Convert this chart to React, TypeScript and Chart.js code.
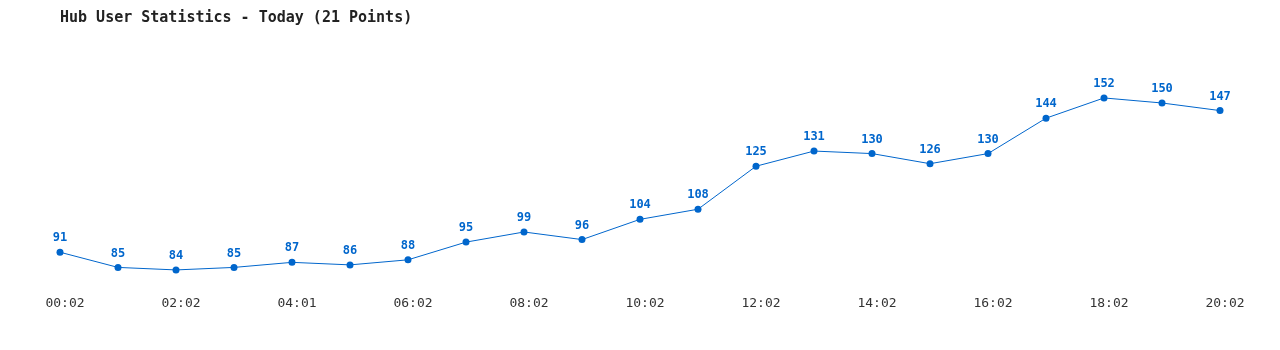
import React, { useEffect, useRef } from "react";
import { Chart, registerables } from "chart.js";

Chart.register(...registerables);

const times = [
  "00:02", "01:02", "02:02", "03:02", "04:01", "05:02", "06:02",
  "07:02", "08:02", "09:02", "10:02", "11:02", "12:02", "13:02",
  "14:02", "15:02", "16:02", "17:02", "18:02", "19:02", "20:02",
];
const users = [91, 85, 84, 85, 87, 86, 88, 95, 99, 96, 104, 108, 125, 131, 130, 126, 130, 144, 152, 150, 147];

const MONO = '"DejaVu Sans Mono", "Liberation Mono", monospace';
const BLUE = "#0066cc";

const valueLabels = {
  id: "valueLabels",
  afterDatasetsDraw(chart: any) {
    const ctx = chart.ctx;
    const meta = chart.getDatasetMeta(0);
    ctx.save();
    ctx.font = `bold 12px ${MONO}`;
    ctx.fillStyle = BLUE;
    ctx.textAlign = "center";
    ctx.textBaseline = "middle";
    meta.data.forEach((pt: any, i: number) => {
      ctx.fillText(String(users[i]), pt.x, pt.y - 14);
    });
    ctx.restore();
  },
};

export default function App() {
  const ref = useRef<HTMLCanvasElement>(null);
  useEffect(() => {
    if (!ref.current) return;
    const chart = new Chart(ref.current, {
      type: "line",
      data: {
        labels: times,
        datasets: [
          {
            data: users,
            borderColor: BLUE,
            backgroundColor: BLUE,
            borderWidth: 1,
            pointRadius: 3.5,
            pointBackgroundColor: BLUE,
            pointBorderWidth: 0,
            tension: 0,
            fill: false,
          },
        ],
      },
      options: {
        animation: false,
        responsive: true,
        maintainAspectRatio: false,
        layout: { padding: { left: 52, right: 52, top: 0, bottom: 24 } },
        plugins: {
          legend: { display: false },
          tooltip: { enabled: false },
          title: {
            display: true,
            text: "Hub User Statistics - Today (21 Points)",
            align: "start",
            color: "#222",
            font: { family: MONO, size: 15, weight: "bold" },
            padding: { top: 1, bottom: 33 },
          },
        },
        scales: {
          x: {
            offset: false,
            grid: { display: false, drawTicks: false },
            border: { display: false },
            ticks: {
              autoSkip: false,
              maxRotation: 0,
              padding: 7,
              labelOffset: 5,
              color: "#333",
              font: { family: MONO, size: 13 },
              callback: (_v: any, i: number) => (i % 2 === 0 ? times[i] : ""),
            },
          },
          y: {
            display: false,
            min: 76.7,
            max: 167,
          },
        },
      },
      plugins: [valueLabels],
    });
    return () => chart.destroy();
  }, []);
  return (
    <div style={{ width: "100%", height: 334 }}>
      <canvas ref={ref} />
    </div>
  );
}
